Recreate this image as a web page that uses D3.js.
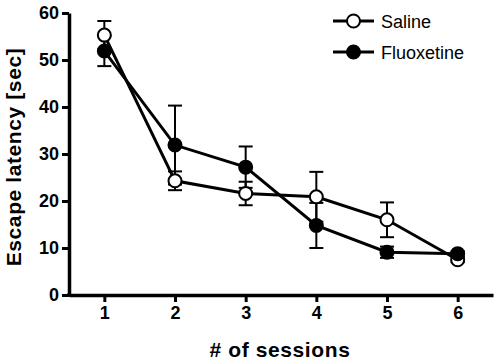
<!DOCTYPE html>
<html>
<head>
<meta charset="utf-8">
<script src="https://cdn.jsdelivr.net/npm/d3@7"></script>
<style>
  body { margin: 0; background: #fff; }
  svg { display: block; font-family: "Liberation Sans", Arial, sans-serif; }
</style>
</head>
<body>
<div id="chart"></div>
<script>
// data
const sessions = [1, 2, 3, 4, 5, 6];
const salineMean = [55.3, 24.3, 21.6, 20.9, 16.0, 7.5];
const salineErr = [3.0, 2.0, 2.5, 5.3, 3.7, 0.5];
const fluoxMean = [51.9, 31.9, 27.2, 14.8, 9.1, 8.8];
const fluoxErr = [3.2, 8.4, 4.4, 4.8, 1.2, 0.5];
const yTicks = [0, 10, 20, 30, 40, 50, 60];

const width = 498, height = 363;
const margin = {left: 69, right: 5, top: 13, bottom: 68};

const svg = d3.select('#chart').append('svg')
  .attr('width', width)
  .attr('height', height);

const x = d3.scaleLinear().domain([0.5, 6.5]).range([margin.left, width - margin.right]);
const y = d3.scaleLinear().domain([0, 60]).range([height - margin.bottom, margin.top]);

// axes
const yAxis = svg.append('g')
  .attr('transform', 'translate(' + margin.left + ',0)')
  .call(d3.axisLeft(y).tickValues(yTicks).tickSize(7).tickPadding(3).tickSizeOuter(0));
const xAxis = svg.append('g')
  .attr('transform', 'translate(0,' + (height - margin.bottom) + ')')
  .call(d3.axisBottom(x).tickValues(sessions).tickFormat(d3.format('d'))
    .tickSize(7).tickPadding(4).tickSizeOuter(0));

[yAxis, xAxis].forEach(g => {
  g.select('.domain').attr('stroke', '#000').attr('stroke-width', 3.5);
  g.selectAll('.tick line').attr('stroke', '#000').attr('stroke-width', 3);
  g.selectAll('.tick text')
    .attr('fill', '#000')
    .style('font-size', '18px')
    .style('font-weight', 'bold');
});
// join axes at origin
svg.append('line')
  .attr('x1', margin.left - 1.75).attr('x2', margin.left + 2)
  .attr('y1', y(0)).attr('y2', y(0))
  .attr('stroke', '#000').attr('stroke-width', 3.5);

// axis titles
svg.append('text')
  .attr('transform', 'translate(21,157) rotate(-90)')
  .attr('text-anchor', 'middle')
  .style('font-size', '21px')
  .style('font-weight', 'bold')
  .style('letter-spacing', '0.6px')
  .text('Escape latency [sec]');

svg.append('text')
  .attr('x', 280)
  .attr('y', 357)
  .attr('text-anchor', 'middle')
  .style('font-size', '21px')
  .style('font-weight', 'bold')
  .style('letter-spacing', '0.6px')
  .text('# of sessions');

const series = [
  {name: 'Saline', mean: salineMean, err: salineErr, fill: '#fff'},
  {name: 'Fluoxetine', mean: fluoxMean, err: fluoxErr, fill: '#000'}
];

const line = d3.line()
  .x((d, i) => x(sessions[i]))
  .y(d => y(d));

// lines
series.forEach(s => {
  svg.append('path')
    .datum(s.mean)
    .attr('d', line)
    .attr('fill', 'none')
    .attr('stroke', '#000')
    .attr('stroke-width', 3);
});

// error bars
series.forEach(s => {
  const g = svg.append('g').attr('stroke', '#000').attr('stroke-width', 2);
  s.mean.forEach((m, i) => {
    const cx = x(sessions[i]);
    g.append('line')
      .attr('x1', cx).attr('x2', cx)
      .attr('y1', y(m - s.err[i])).attr('y2', y(m + s.err[i]));
    [m - s.err[i], m + s.err[i]].forEach(v => {
      g.append('line')
        .attr('x1', cx - 7).attr('x2', cx + 7)
        .attr('y1', y(v)).attr('y2', y(v));
    });
  });
});

// markers
series.forEach(s => {
  svg.append('g').selectAll('circle')
    .data(s.mean)
    .enter()
    .append('circle')
    .attr('cx', (d, i) => x(sessions[i]))
    .attr('cy', d => y(d))
    .attr('r', 6.5)
    .attr('fill', s.fill)
    .attr('stroke', '#000')
    .attr('stroke-width', 2);
});

// legend
const legend = svg.append('g').attr('transform', 'translate(333,21)');
series.forEach((s, i) => {
  const row = legend.append('g').attr('transform', 'translate(0,' + (i * 31) + ')');
  row.append('line')
    .attr('x1', 0).attr('x2', 41)
    .attr('stroke', '#000').attr('stroke-width', 3);
  row.append('circle')
    .attr('cx', 20.5).attr('r', 6.5)
    .attr('fill', s.fill)
    .attr('stroke', '#000').attr('stroke-width', 2);
  row.append('text')
    .attr('x', 48).attr('y', 6.5)
    .style('font-size', '18px')
    .text(s.name);
});
</script>
</body>
</html>
